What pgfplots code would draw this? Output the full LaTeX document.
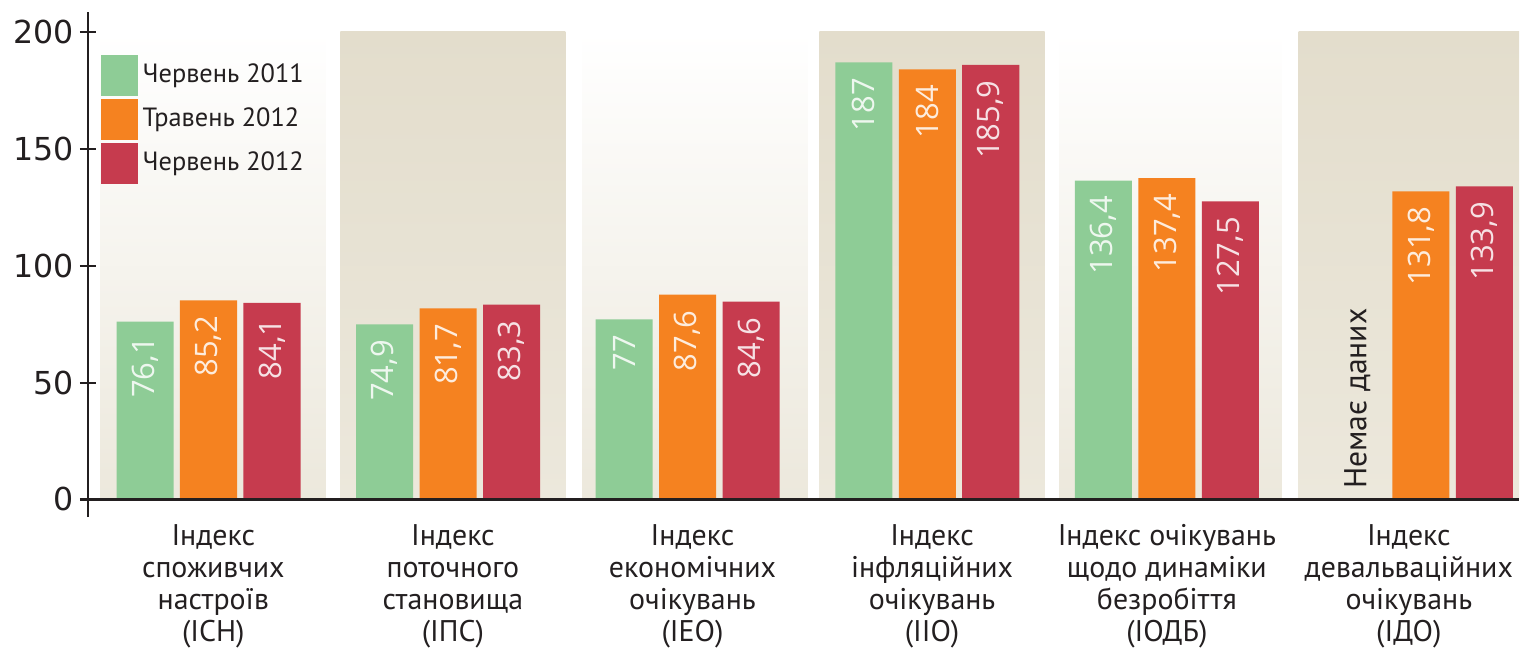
\documentclass[border=0pt]{standalone}
\usepackage{fontspec}
\setmainfont{PT Sans}
\newfontfamily\valfont{Open Sans}
\newfontfamily\tickfont{DejaVu Sans}
\usepackage{graphicx}
\usepackage{pgfplots}
\pgfplotsset{compat=1.18}

\definecolor{cGreen}{HTML}{8ECC96}
\definecolor{cOrange}{HTML}{F58220}
\definecolor{cRed}{HTML}{C63B4E}
\definecolor{panelHi}{HTML}{E3DDCC}
\definecolor{panelLo}{HTML}{ECE8DC}
\definecolor{txt}{HTML}{231F20}

% bars sit at their own x (group +- 0.265), so no bar shift is needed
\pgfplotsset{
  mybar/.style={ybar, bar width=0.238, bar shift=0pt, draw=none,
    legend image code/.code={\fill[##1] (0cm,-0.205cm) rectangle (0.37cm,0.205cm);},
    nodes near coords={\rotatebox{90}{\pgfmathprintnumber{\pgfplotspointmeta}}},
    every node near coord/.append style={anchor=north,
      inner ysep=0.15cm, inner xsep=0pt, text=white, text opacity=0.85,
      font=\valfont\fontsize{8.8}{10}\selectfont}},
}

\begin{document}
\begin{tikzpicture}
\begin{axis}[
  scale only axis,
  width=14.31cm, height=5.05cm,
  xmin=-0.503, xmax=5.47,
  ymin=-7.5, ymax=208.5,
  axis y line=left, axis x line=bottom,
  axis line style={-},
  x axis line style={draw=none},
  y axis line style={line width=0.6pt, txt},
  ytick={0,50,100,150,200},
  tick align=center,
  major tick length=0.16cm,
  ytick style={line width=0.6pt, txt},
  yticklabel style={font=\tickfont\fontsize{9}{10}\selectfont, text=txt, xshift=0.06cm},
  /pgf/number format/assume math mode=true,
  /pgf/number format/use comma,
  /pgf/number format/fixed,
  xtick={0.02,1.02,2.02,3.02,4.0,5.01},
  xticklabels={
    {Індекс\\споживчих\\настроїв\\(ІСН)},
    {Індекс\\поточного\\становища\\(ІПС)},
    {Індекс\\економічних\\очікувань\\(ІЕО)},
    {Індекс\\інфляційних\\очікувань\\(ІІО)},
    {Індекс очікувань\\щодо динаміки\\безробіття\\(ІОДБ)},
    {Індекс\\девальваційних\\очікувань\\(ІДО)}},
  xticklabel style={align=center, font=\fontsize{8.5}{9.1}\selectfont, text=txt, yshift=0.13cm},
  xtick style={draw=none},
  legend style={at={(axis cs:-0.453,190.2)}, anchor=north west,
    draw=none, fill=none, inner sep=0pt, row sep=0.03cm,
    /tikz/column sep=0.05cm, nodes={inner sep=0pt},
    font=\fontsize{7.5}{9}\selectfont, text=txt},
  legend cell align=left,
]
% background panels
\shade[top color=white, bottom color=panelLo] (axis cs:-0.45,0) rectangle (axis cs:0.49,200);
\shade[top color=panelHi, bottom color=panelLo] (axis cs:0.55,0) rectangle (axis cs:1.49,200);
\shade[top color=white, bottom color=panelLo] (axis cs:1.56,0) rectangle (axis cs:2.50,200);
\shade[top color=panelHi, bottom color=panelLo] (axis cs:2.55,0) rectangle (axis cs:3.49,200);
\shade[top color=white, bottom color=panelLo] (axis cs:3.55,0) rectangle (axis cs:4.48,200);
\shade[top color=panelHi, bottom color=panelLo] (axis cs:4.55,0) rectangle (axis cs:5.49,200);

\addplot[mybar, fill=cGreen]
  coordinates {(-0.265,76.1) (0.735,74.9) (1.735,77) (2.735,187) (3.735,136.4)};
\addlegendentry{Червень 2011}
\addplot[mybar, fill=cOrange]
  coordinates {(0,85.2) (1,81.7) (2,87.6) (3,184) (4,137.4) (5.06,131.8)};
\addlegendentry{Травень 2012}
\addplot[mybar, fill=cRed]
  coordinates {(0.265,84.1) (1.265,83.3) (2.265,84.6) (3.265,185.9) (4.265,127.5) (5.325,133.9)};
\addlegendentry{Червень 2012}

\draw[line width=1.1pt, txt] (axis cs:-0.503,0) -- (axis cs:5.47,0);
\node[rotate=90, anchor=west, inner xsep=0.1cm, text=txt,
  font=\fontsize{9}{10}\selectfont] at (axis cs:4.795,0) {Немає даних};
\end{axis}
\pgfresetboundingbox
\path[use as bounding box] (current axis.south west) ++(-0.88cm,-1.38cm) rectangle ++(15.22cm,6.55cm);
\end{tikzpicture}
\end{document}
